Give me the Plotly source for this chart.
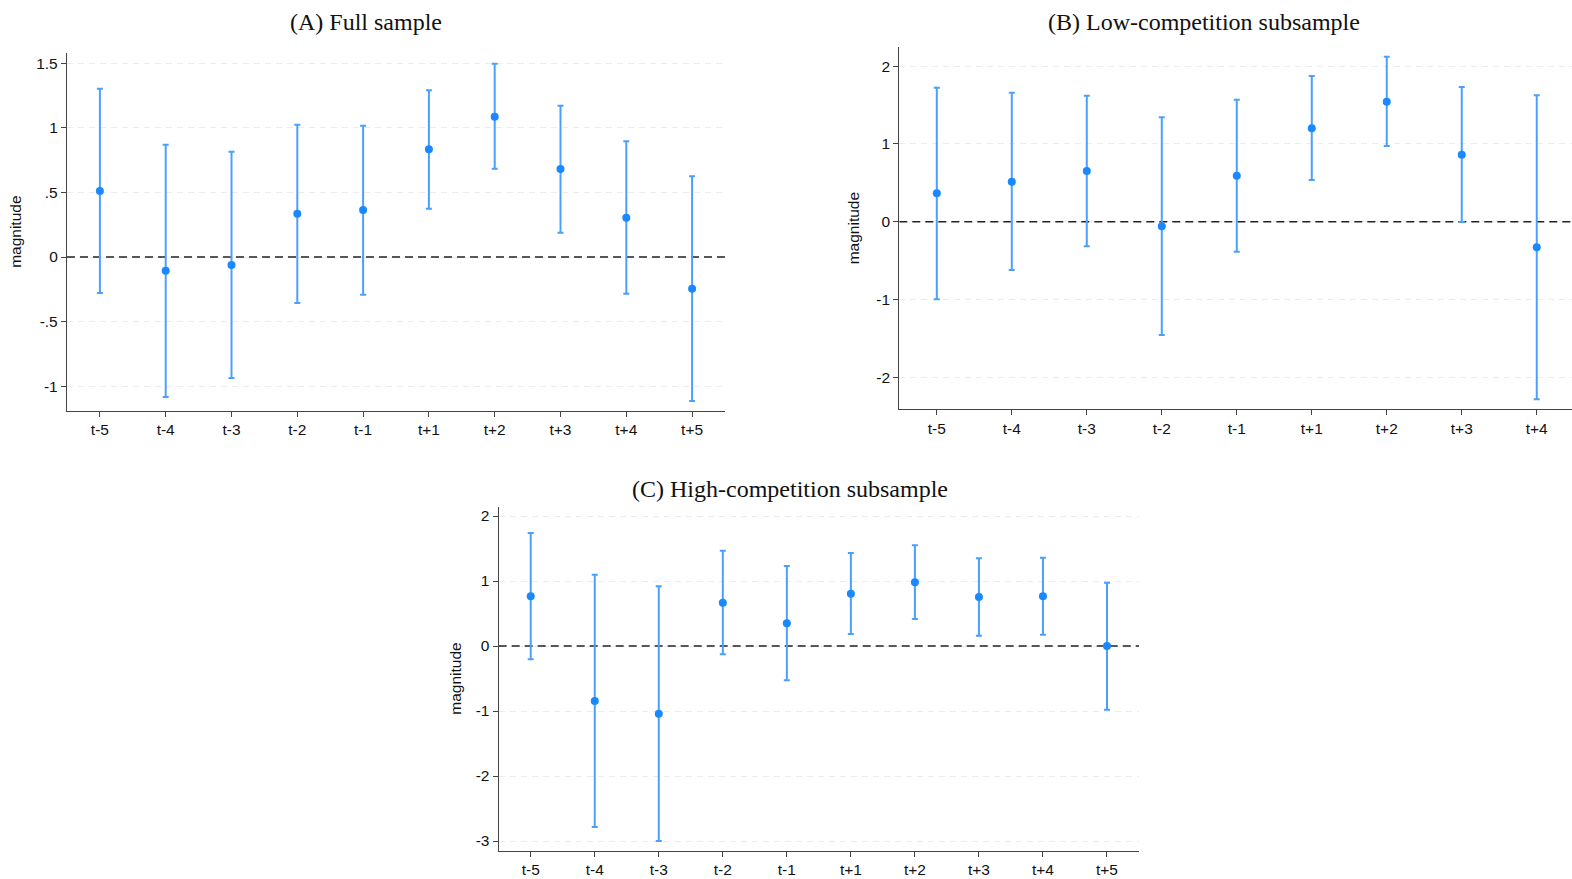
import plotly.graph_objects as go

W, H = 1572, 879

cats_full = ["t-5", "t-4", "t-3", "t-2", "t-1", "t+1", "t+2", "t+3", "t+4", "t+5"]
cats_low = ["t-5", "t-4", "t-3", "t-2", "t-1", "t+1", "t+2", "t+3", "t+4"]
cats_high = ["t-5", "t-4", "t-3", "t-2", "t-1", "t+1", "t+2", "t+3", "t+4", "t+5"]

# Panel A: Full sample
a_coef = [0.511, -0.106, -0.062, 0.336, 0.364, 0.834, 1.087, 0.682, 0.304, -0.246]
a_hi = [1.304, 0.870, 0.816, 1.025, 1.017, 1.291, 1.497, 1.172, 0.896, 0.625]
a_lo = [-0.279, -1.084, -0.937, -0.356, -0.292, 0.374, 0.684, 0.188, -0.284, -1.115]

# Panel B: Low-competition subsample (t+5 lies beyond the visible edge)
b_coef = [0.365, 0.514, 0.652, -0.059, 0.591, 1.200, 1.542, 0.861, -0.329]
b_hi = [1.722, 1.658, 1.620, 1.342, 1.568, 1.873, 2.121, 1.731, 1.625]
b_lo = [-0.998, -0.621, -0.316, -1.456, -0.386, 0.536, 0.973, -0.004, -2.283]

# Panel C: High-competition subsample
c_coef = [0.764, -0.846, -1.041, 0.667, 0.349, 0.805, 0.979, 0.754, 0.764, 0.0]
c_hi = [1.738, 1.097, 0.918, 1.467, 1.231, 1.431, 1.549, 1.349, 1.359, 0.974]
c_lo = [-0.205, -2.785, -3.000, -0.128, -0.528, 0.185, 0.415, 0.159, 0.174, -0.980]

a_ticks = [-1, -0.5, 0, 0.5, 1, 1.5]
a_ticktext = ["-1", "-.5", "0", ".5", "1", "1.5"]
b_ticks = [-2, -1, 0, 1, 2]
b_ticktext = ["-2", "-1", "0", "1", "2"]
c_ticks = [-3, -2, -1, 0, 1, 2]
c_ticktext = ["-3", "-2", "-1", "0", "1", "2"]

titles = ["(A) Full sample", "(B) Low-competition subsample", "(C) High-competition subsample"]

MARK = "#1a88ff"
BAR = "#4aa0ff"

def px_x(p):
    return p / W

def px_y(p):
    return 1 - p / H

panels = [
    dict(cats=cats_full, coef=a_coef, hi=a_hi, lo=a_lo, xd=(67, 725), yd=(53, 410.7),
         xr=[-0.5, 9.5], yr=[-1.19, 1.58], tv=a_ticks, tt=a_ticktext),
    dict(cats=cats_low, coef=b_coef, hi=b_hi, lo=b_lo, xd=(899.3, 1572), yd=(47.3, 409.3),
         xr=[-0.5, 8.47], yr=[-2.411, 2.242], tv=b_ticks, tt=b_ticktext),
    dict(cats=cats_high, coef=c_coef, hi=c_hi, lo=c_lo, xd=(498.7, 1139), yd=(506.7, 850.7),
         xr=[-0.5, 9.5], yr=[-3.149, 2.143], tv=c_ticks, tt=c_ticktext),
]

fig = go.Figure()
layout = dict(width=W, height=H, margin=dict(l=0, r=0, t=0, b=0),
              paper_bgcolor="white", plot_bgcolor="white", showlegend=False)
annotations = []

title_pos = [(366, 22), (1204, 22), (790, 489)]
ytitle_x = [16, 853, 456]

for i, p in enumerate(panels):
    n = i + 1
    xa = "x" if n == 1 else f"x{n}"
    ya = "y" if n == 1 else f"y{n}"
    idx = list(range(len(p["cats"])))
    # reference line at zero (drawn under the estimates)
    fig.add_trace(go.Scatter(
        x=[p["xr"][0], p["xr"][1]], y=[0, 0], mode="lines", xaxis=xa, yaxis=ya,
        line=dict(color="#222222", width=1.6, dash="8px,5px"), hoverinfo="skip"))
    fig.add_trace(go.Scatter(
        x=idx, y=p["coef"], mode="markers", xaxis=xa, yaxis=ya,
        marker=dict(color=MARK, size=8),
        error_y=dict(type="data", symmetric=False,
                     array=[h - c for h, c in zip(p["hi"], p["coef"])],
                     arrayminus=[c - l for c, l in zip(p["coef"], p["lo"])],
                     color=BAR, thickness=2, width=3),
    ))
    common_axis = dict(showline=True, linecolor="#444444", linewidth=1.3,
                       ticks="outside", ticklen=5, tickcolor="#444444", tickwidth=1,
                       tickfont=dict(family="Liberation Sans, Arial", size=15.5, color="#111111"),
                       zeroline=False)
    layout["xaxis" if n == 1 else f"xaxis{n}"] = dict(
        domain=[px_x(p["xd"][0]), px_x(p["xd"][1])], range=p["xr"], anchor=ya,
        tickvals=idx, ticktext=p["cats"], showgrid=False, **common_axis)
    layout["yaxis" if n == 1 else f"yaxis{n}"] = dict(
        domain=[px_y(p["yd"][1]), px_y(p["yd"][0])], range=p["yr"], anchor=xa,
        tickvals=p["tv"], ticktext=p["tt"], showgrid=True, gridcolor="#ececec",
        gridwidth=1, griddash="6px,5px", **common_axis)
    tx, ty = title_pos[i]
    annotations.append(dict(text=titles[i], xref="paper", yref="paper",
                            x=px_x(tx), y=px_y(ty), xanchor="center", yanchor="middle",
                            showarrow=False,
                            font=dict(family="Liberation Serif, Times New Roman", size=24, color="#111111")))
    annotations.append(dict(text="magnitude", xref="paper", yref=f"{ya} domain",
                            x=px_x(ytitle_x[i]), y=0.5, xanchor="center", yanchor="middle",
                            textangle=-90, showarrow=False,
                            font=dict(family="Liberation Sans, Arial", size=15.5, color="#111111")))

layout["annotations"] = annotations
fig.update_layout(**layout)
fig.write_html("out.html")
